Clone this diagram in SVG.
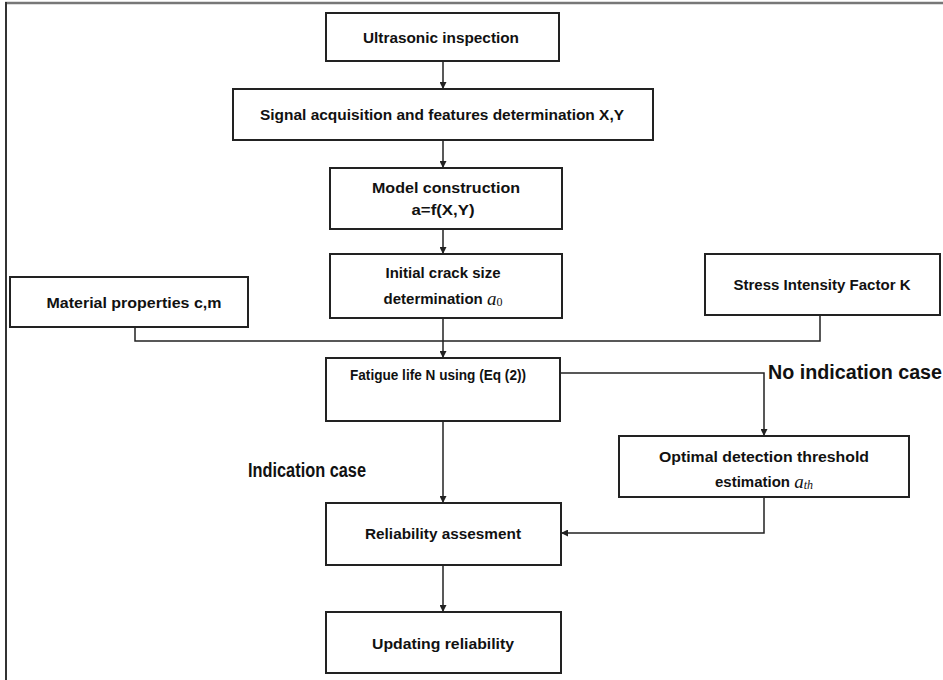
<svg xmlns="http://www.w3.org/2000/svg" width="943" height="680" viewBox="0 0 943 680">
<defs>
<style>
.box{fill:#fff;stroke:#222;stroke-width:2}
.t{font-family:"Liberation Sans",Arial,sans-serif;font-weight:bold;font-size:15px;fill:#111;text-anchor:middle;dominant-baseline:central}
.m{font-family:"Liberation Serif","Times New Roman",serif;font-style:italic;font-weight:normal;font-size:19px}
.s{font-family:"Liberation Serif","Times New Roman",serif;font-weight:normal;font-size:12px}
.big{font-family:"Liberation Sans",Arial,sans-serif;font-weight:bold;font-size:20px;fill:#111;dominant-baseline:central}
.c{fill:none;stroke:#222;stroke-width:1.5}
</style>
<marker id="ah" viewBox="0 0 10 10" refX="10" refY="5" markerWidth="7" markerHeight="7" markerUnits="userSpaceOnUse" orient="auto">
<path d="M0,0 L10,5 L0,10 z" fill="#222"/>
</marker>
</defs>
<rect x="0" y="0" width="943" height="680" fill="#fff"/>
<g id="frame">
<line x1="5" y1="3" x2="943" y2="3" stroke="#777" stroke-width="2.5"/>
<line x1="6" y1="2" x2="6" y2="680" stroke="#333" stroke-width="2"/>
</g>
<g id="connectors">
<line class="c" x1="443" y1="61" x2="443" y2="89" marker-end="url(#ah)"/>
<line class="c" x1="443" y1="140" x2="443" y2="168" marker-end="url(#ah)"/>
<line class="c" x1="443" y1="229" x2="443" y2="254" marker-end="url(#ah)"/>
<polyline class="c" points="135,327 135,341 820,341 820,315"/>
<line class="c" x1="443" y1="318" x2="443" y2="358" marker-end="url(#ah)"/>
<polyline class="c" points="560,373 764,373 764,436" marker-end="url(#ah)"/>
<line class="c" x1="443" y1="421" x2="443" y2="503" marker-end="url(#ah)"/>
<polyline class="c" points="764,497 764,533 561,533" marker-end="url(#ah)"/>
<line class="c" x1="443" y1="565" x2="443" y2="612" marker-end="url(#ah)"/>
</g>
<g id="n-ultrasonic">
<rect class="box" x="326" y="13" width="233" height="48"/>
<text class="t" x="441" y="37" textLength="156" lengthAdjust="spacingAndGlyphs">Ultrasonic inspection</text>
</g>
<g id="n-signal">
<rect class="box" x="233" y="89" width="420" height="51"/>
<text class="t" x="442" y="114" textLength="364" lengthAdjust="spacingAndGlyphs">Signal acquisition and features determination X,Y</text>
</g>
<g id="n-model">
<rect class="box" x="330" y="168" width="232" height="61"/>
<text class="t" x="446" y="187" textLength="148" lengthAdjust="spacingAndGlyphs">Model construction</text>
<text class="t" x="443" y="209" textLength="63" lengthAdjust="spacingAndGlyphs">a=f(X,Y)</text>
</g>
<g id="n-initial">
<rect class="box" x="330" y="254" width="232" height="64"/>
<text class="t" x="443" y="272" textLength="115" lengthAdjust="spacingAndGlyphs">Initial crack size</text>
<text class="t" x="443" y="298">determination <tspan class="m">a</tspan><tspan class="s" dy="4">0</tspan></text>
</g>
<g id="n-material">
<rect class="box" x="10" y="277" width="238" height="50"/>
<text class="t" x="134" y="302" textLength="175" lengthAdjust="spacingAndGlyphs">Material properties c,m</text>
</g>
<g id="n-stress">
<rect class="box" x="705" y="254" width="235" height="61"/>
<text class="t" x="822" y="284" textLength="177" lengthAdjust="spacingAndGlyphs">Stress Intensity Factor K</text>
</g>
<g id="n-fatigue">
<rect class="box" x="326" y="358" width="234" height="63"/>
<text class="t" x="438" y="374" textLength="176" lengthAdjust="spacingAndGlyphs">Fatigue life N using (Eq (2))</text>
</g>
<g id="n-optimal">
<rect class="box" x="619" y="436" width="290" height="61"/>
<text class="t" x="764" y="456" textLength="210" lengthAdjust="spacingAndGlyphs">Optimal detection threshold</text>
<text class="t" x="764" y="481">estimation <tspan class="m">a</tspan><tspan class="s" font-style="italic" dy="4">th</tspan></text>
</g>
<g id="n-reliability">
<rect class="box" x="326" y="503" width="235" height="62"/>
<text class="t" x="443" y="533" textLength="156" lengthAdjust="spacingAndGlyphs">Reliability assesment</text>
</g>
<g id="n-updating">
<rect class="box" x="326" y="612" width="235" height="61"/>
<text class="t" x="443" y="643" textLength="142" lengthAdjust="spacingAndGlyphs">Updating reliability</text>
</g>
<g id="labels">
<text class="big" x="768" y="372" textLength="174" lengthAdjust="spacingAndGlyphs">No indication case</text>
<text class="big" x="248" y="470" textLength="118" lengthAdjust="spacingAndGlyphs">Indication case</text>
</g>
</svg>
